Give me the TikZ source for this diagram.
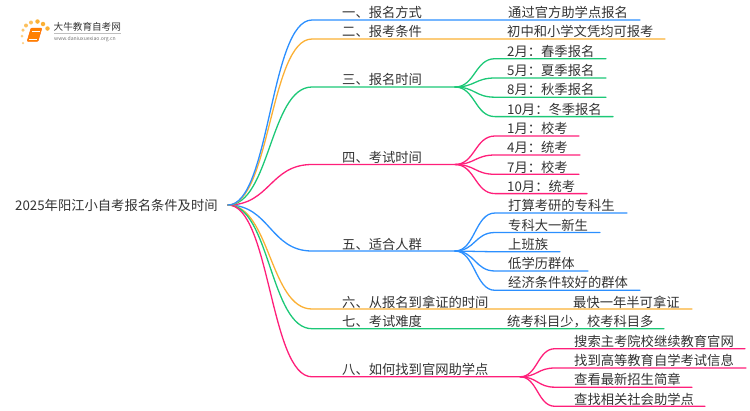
\documentclass[tikz,border=0pt]{standalone}
\usepackage{fontspec}
\usetikzlibrary{calc}
\setmainfont{Noto Sans CJK SC}
\definecolor{cblue}{HTML}{2B8FFF}
\definecolor{corange}{HTML}{FBB034}
\definecolor{cgreen}{HTML}{1CC877}
\definecolor{cpink}{HTML}{FF1F7A}
\definecolor{ctext}{HTML}{333333}
\tikzset{
  x=1pt,y=-1pt,
  lbl/.style={anchor=west,inner sep=0pt,text=ctext,yshift=-0.5pt,font=\fontsize{13.3}{14}\selectfont},
  wire/.style={line width=1.3pt,line cap=round},
  dot/.style={circle,fill=#1,draw=none,inner sep=0pt,minimum size=5pt},
}
% \branch{colour}{from}{to}{end}: S-curve from one named point to another, then a straight run
\newcommand{\branch}[4]{\draw[wire,#1] (#2) .. controls ($(#2)!0.5!(#2-|#3)$) and ($(#3)!0.5!(#3-|#2)$) .. (#3) -- (#4);}
\begin{document}
\begin{tikzpicture}
\useasboundingbox (0,0) rectangle (750,410);
% logo
\node[dot=corange!60,minimum size=2.5pt] (d1) at (23,43) {};
\node[dot=corange!60,minimum size=3pt] (d2) at (22,36) {};
\node[dot=corange!70,minimum size=3.5pt] (d3) at (23,30) {};
\node[dot=corange!80,minimum size=4pt] (d4) at (26,25.5) {};
\node[dot=corange!80,minimum size=4pt] (d5) at (31,22.5) {};
\node[dot=corange,minimum size=4.5pt] (d6) at (37.5,21.5) {};
\node[dot=corange,minimum size=4.5pt] (d7) at (43,24) {};
\node[dot=corange,minimum size=4.5pt] (d8) at (47.5,28.5) {};
\draw[fill=orange,draw=orange!80!red,rounded corners=1pt] (31,28) -- (42,28) -- (38,41.5) -- (27,41.5) -- cycle;
\draw[white,line width=.4pt] (32,31) -- (39.5,31) (29,39) -- (37,39);
\node[anchor=west,inner sep=0pt,text=ctext,font=\fontsize{9.6}{10}\selectfont] (logotitle) at (53.5,27) {大牛教育自考网};
\draw[black!25,line width=.5pt] (54,33.5) -- (121,33.5);
\node[anchor=west,inner sep=0pt,text=black!55,font=\fontsize{5.1}{6}\selectfont] (logourl) at (54,38.7) {www.daniuxuexiao.org.cn};
% root
\node[lbl] (root) at (15,205) {2025年阳江小自考报名条件及时间};
\coordinate (r) at (228,205);
% branch coordinates
\foreach \n/\y/\e in {1/20/640,2/39/665,3/87/455,4/164.5/455,5/251/455,6/309/692,7/328.7/664,8/376.8/520}{
  \coordinate (b\n) at (312,\y);
  \coordinate (e\n) at (\e,\y);
}
\branch{cblue}{r}{b5}{e5}
\branch{corange}{r}{b6}{e6}
\branch{cgreen}{r}{b7}{e7}
\branch{cpink}{r}{b8}{e8}
\branch{cpink}{r}{b4}{e4}
\branch{cgreen}{r}{b3}{e3}
\branch{corange}{r}{b2}{e2}
\branch{cblue}{r}{b1}{e1}
% branch labels
\node[lbl] (t1) at (342,11.8) {一、报名方式};
\node[lbl] (t2) at (342,30.8) {二、报考条件};
\node[lbl] (t3) at (342,79) {三、报名时间};
\node[lbl] (t4) at (342,156.5) {四、考试时间};
\node[lbl] (t5) at (342,243.5) {五、适合人群};
\node[lbl] (t6) at (342,301.5) {六、从报名到拿证的时间};
\node[lbl] (t7) at (342,321) {七、考试难度};
\node[lbl] (t8) at (342,369) {八、如何找到官网助学点};
% direct answers
\node[lbl] (a1) at (508,11.8) {通过官方助学点报名};
\node[lbl] (a2) at (507,30.8) {初中和小学文凭均可报考};
\node[lbl] (a6) at (573,301.5) {最快一年半可拿证};
\node[lbl] (a7) at (507,321) {统考科目少，校考科目多};
% section 3
\foreach \n/\y/\e in {1/58.7/606,2/78/606,3/97.2/606,4/116.6/613}{
  \coordinate (c3\n) at (495,\y);
  \coordinate (f3\n) at (\e,\y);
  \branch{cgreen}{e3}{c3\n}{f3\n}
}
\node[lbl] (s31) at (507,50.5) {2月：春季报名};
\node[lbl] (s32) at (507,70) {5月：夏季报名};
\node[lbl] (s33) at (507,89) {8月：秋季报名};
\node[lbl] (s34) at (507,108.5) {10月：冬季报名};
% section 4
\foreach \n/\y/\e in {1/136/579,2/155/580,3/174.3/579,4/193.6/587}{
  \coordinate (c4\n) at (495,\y);
  \coordinate (f4\n) at (\e,\y);
  \branch{cpink}{e4}{c4\n}{f4\n}
}
\node[lbl] (s41) at (507,128) {1月：校考};
\node[lbl] (s42) at (507,147) {4月：统考};
\node[lbl] (s43) at (507,166.5) {7月：校考};
\node[lbl] (s44) at (507,185.5) {10月：统考};
% section 5
\foreach \n/\y/\e in {1/213/627,2/232.5/600,3/251.8/560,4/271/588,5/290.3/640}{
  \coordinate (c5\n) at (495,\y);
  \coordinate (f5\n) at (\e,\y);
  \branch{cblue}{e5}{c5\n}{f5\n}
}
\node[lbl] (s51) at (508,205) {打算考研的专科生};
\node[lbl] (s52) at (508,224.5) {专科大一新生};
\node[lbl] (s53) at (508,243.5) {上班族};
\node[lbl] (s54) at (508,263) {低学历群体};
\node[lbl] (s55) at (508,282) {经济条件较好的群体};
% section 8
\foreach \n/\y/\e in {1/348.7/745,2/368/746,3/387.2/692,4/406.3/705}{
  \coordinate (c8\n) at (555,\y);
  \coordinate (f8\n) at (\e,\y);
  \branch{cpink}{e8}{c8\n}{f8\n}
}
\node[lbl] (s81) at (574,340.5) {搜索主考院校继续教育官网};
\node[lbl] (s82) at (574,360) {找到高等教育自学考试信息};
\node[lbl] (s83) at (574,379) {查看最新招生简章};
\node[lbl] (s84) at (574,398.5) {查找相关社会助学点};
\end{tikzpicture}
\end{document}
